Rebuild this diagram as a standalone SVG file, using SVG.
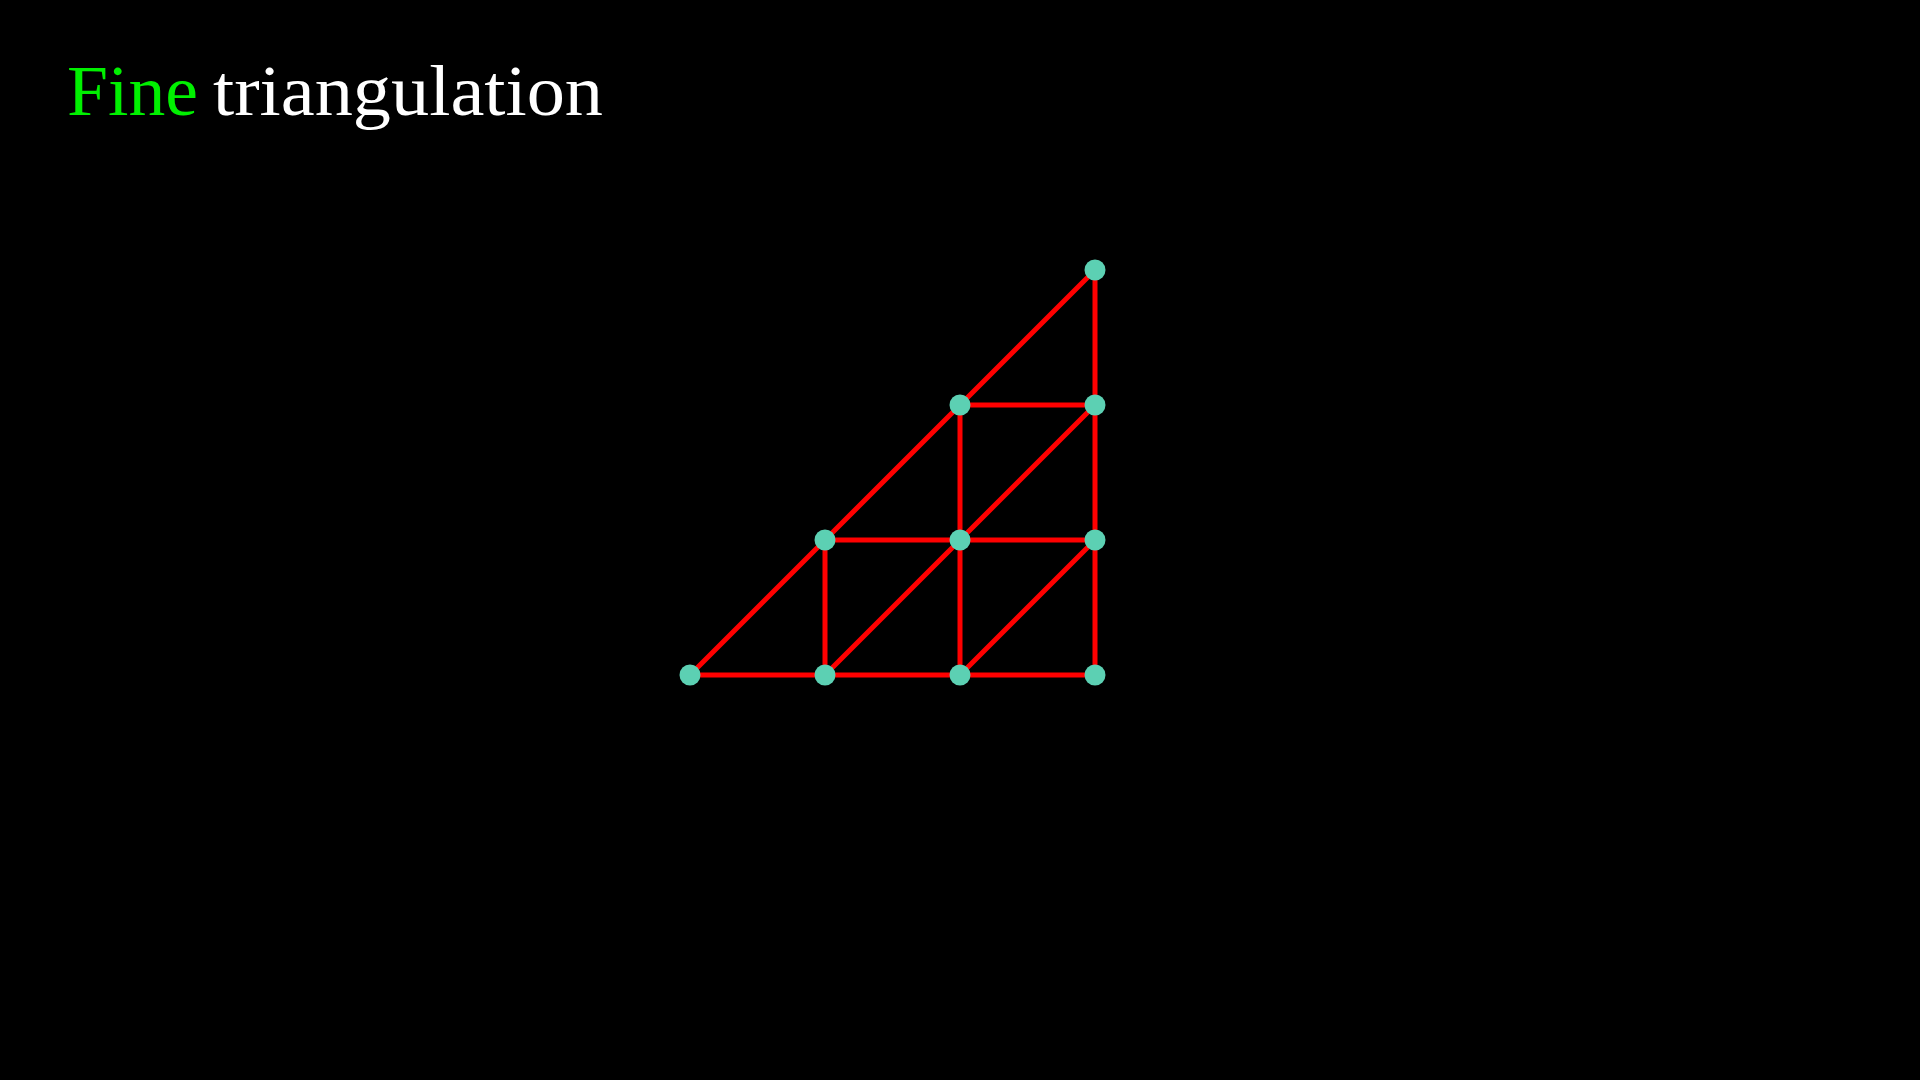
<svg xmlns="http://www.w3.org/2000/svg" width="1920" height="1080" viewBox="0 0 1920 1080">
<style>
.title{font-family:"Liberation Serif","DejaVu Serif",serif;font-size:71px}
.edge{stroke:#FF0000;stroke-width:5;stroke-linecap:round;fill:none}
.node{fill:#5CD0B3}
</style>
<rect width="1920" height="1080" fill="#000"/>
<g id="title">
<text class="title" x="67" y="115" fill="#00F000" textLength="131" lengthAdjust="spacingAndGlyphs">Fine</text>
<text class="title" x="213" y="115" fill="#FFFFFF" textLength="390" lengthAdjust="spacingAndGlyphs">triangulation</text>
</g>
<g id="connectors">
<line class="edge" x1="690" y1="675" x2="1095" y2="675"/>
<line class="edge" x1="825" y1="540" x2="1095" y2="540"/>
<line class="edge" x1="960" y1="405" x2="1095" y2="405"/>
<line class="edge" x1="1095" y1="270" x2="1095" y2="675"/>
<line class="edge" x1="960" y1="405" x2="960" y2="675"/>
<line class="edge" x1="825" y1="540" x2="825" y2="675"/>
<line class="edge" x1="690" y1="675" x2="1095" y2="270"/>
<line class="edge" x1="825" y1="675" x2="1095" y2="405"/>
<line class="edge" x1="960" y1="675" x2="1095" y2="540"/>
</g>
<g id="n1"><circle class="node" cx="690" cy="675" r="10.5"/></g>
<g id="n2"><circle class="node" cx="825" cy="675" r="10.5"/></g>
<g id="n3"><circle class="node" cx="960" cy="675" r="10.5"/></g>
<g id="n4"><circle class="node" cx="1095" cy="675" r="10.5"/></g>
<g id="n5"><circle class="node" cx="825" cy="540" r="10.5"/></g>
<g id="n6"><circle class="node" cx="960" cy="540" r="10.5"/></g>
<g id="n7"><circle class="node" cx="1095" cy="540" r="10.5"/></g>
<g id="n8"><circle class="node" cx="960" cy="405" r="10.5"/></g>
<g id="n9"><circle class="node" cx="1095" cy="405" r="10.5"/></g>
<g id="n10"><circle class="node" cx="1095" cy="270" r="10.5"/></g>
</svg>
